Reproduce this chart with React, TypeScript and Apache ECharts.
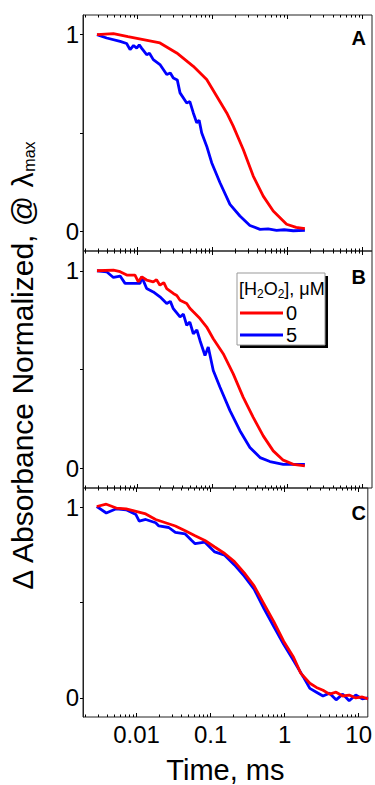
import React, { useEffect, useRef } from "react";
import * as echarts from "echarts";

// ---- axis ranges & ticks ----
const X_MIN = 0.00189;
const X_MAX = 13.3;
const X_MAJOR = [0.01, 0.1, 1, 10];
const X_MAJOR_LABELS = ["0.01", "0.1", "1", "10"];
const X_DECADES = [0.001, 0.01, 0.1, 1, 10];
const X_MINOR_MULT = [2, 3, 4, 5, 6, 7, 8, 9];
const Y_MIN = -0.1;
const Y_MAX = 1.1;
const Y_TICKS = [0, 0.5, 1];
const Y_LABELS = [0, 1];
const PANEL_LETTERS = ["A", "B", "C"];
const LEGEND_NAMES = ["0", "5"];

// ---- data (time in ms, normalized absorbance) ----
const A_RED_T = [0.0029, 0.0048, 0.0075, 0.012, 0.02, 0.0334, 0.0556, 0.0838, 0.114, 0.155, 0.189, 0.257, 0.349, 0.474, 0.644, 0.97, 1.3, 1.7];
const A_RED_V = [1, 1.005, 0.99, 0.975, 0.958, 0.907, 0.839, 0.772, 0.687, 0.602, 0.535, 0.416, 0.281, 0.179, 0.103, 0.036, 0.02, 0.014];
const A_BLUE_T = [0.0029, 0.0039, 0.0059, 0.0072, 0.008, 0.0089, 0.0098, 0.0106, 0.01145, 0.0133, 0.0145, 0.0163, 0.02, 0.0246, 0.0275, 0.0301, 0.034, 0.037, 0.0454, 0.05, 0.0556, 0.0617, 0.0665, 0.0718, 0.0838, 0.0976, 0.126, 0.171, 0.232, 0.315, 0.43, 0.55, 0.714, 0.9, 1.19, 1.7];
const A_BLUE_V = [1, 0.983, 0.966, 0.955, 0.924, 0.945, 0.932, 0.948, 0.93, 0.898, 0.905, 0.873, 0.848, 0.797, 0.805, 0.78, 0.77, 0.704, 0.653, 0.66, 0.602, 0.552, 0.565, 0.501, 0.433, 0.349, 0.247, 0.137, 0.078, 0.03, 0.01, 0.012, 0.005, 0.008, 0.003, 0.005];

const B_RED_T = [0.0029, 0.0048, 0.0059, 0.00723, 0.0093, 0.0103, 0.01145, 0.0133, 0.0163, 0.018, 0.02, 0.0225, 0.0246, 0.0301, 0.0335, 0.037, 0.0454, 0.05, 0.0556, 0.0682, 0.0838, 0.1025, 0.139, 0.189, 0.257, 0.349, 0.474, 0.644, 0.875, 1.19, 1.7];
const B_RED_V = [1, 1.003, 0.995, 0.978, 0.978, 0.944, 0.969, 0.953, 0.944, 0.955, 0.927, 0.94, 0.91, 0.885, 0.875, 0.851, 0.834, 0.81, 0.792, 0.758, 0.715, 0.656, 0.58, 0.478, 0.359, 0.258, 0.164, 0.088, 0.041, 0.02, 0.012];
const B_BLUE_T = [0.0029, 0.0039, 0.0048, 0.0059, 0.00686, 0.01086, 0.01145, 0.0133, 0.0163, 0.02, 0.0246, 0.0275, 0.0301, 0.037, 0.041, 0.0454, 0.05, 0.0556, 0.062, 0.0682, 0.0795, 0.0879, 0.1025, 0.126, 0.171, 0.232, 0.315, 0.43, 0.582, 0.875, 1.19, 1.7];
const B_BLUE_V = [1, 0.995, 0.966, 0.973, 0.936, 0.936, 0.969, 0.91, 0.893, 0.868, 0.834, 0.845, 0.808, 0.766, 0.78, 0.724, 0.74, 0.681, 0.7, 0.647, 0.571, 0.614, 0.495, 0.41, 0.292, 0.19, 0.105, 0.054, 0.034, 0.02, 0.02, 0.02];

const C_RED_T = [0.0029, 0.0039, 0.00532, 0.00723, 0.0098, 0.0133, 0.0181, 0.0246, 0.0334, 0.0454, 0.0617, 0.0838, 0.1137, 0.155, 0.21, 0.285, 0.387, 0.526, 0.714, 0.97, 1.32, 1.65, 2.19, 2.69, 3.3, 4.04, 4.96, 6.09, 7.45, 9.14, 11.2, 13.4];
const C_RED_V = [1.003, 1.015, 0.995, 0.991, 0.978, 0.964, 0.935, 0.918, 0.901, 0.876, 0.85, 0.825, 0.791, 0.757, 0.714, 0.655, 0.587, 0.493, 0.4, 0.297, 0.213, 0.13, 0.077, 0.055, 0.04, 0.02, 0.03, 0.01, 0.015, 0.0, 0.005, -0.005];
const C_BLUE_T = [0.0029, 0.0039, 0.00532, 0.00723, 0.0098, 0.01086, 0.0133, 0.0181, 0.02, 0.0272, 0.0334, 0.0454, 0.0556, 0.0617, 0.0838, 0.1137, 0.155, 0.21, 0.285, 0.387, 0.526, 0.714, 0.97, 1.32, 1.79, 2.19, 2.69, 3.3, 4.04, 4.96, 6.09, 7.45, 9.14, 11.2, 13.4];
const C_BLUE_V = [1.003, 0.969, 0.991, 0.986, 0.961, 0.927, 0.935, 0.918, 0.901, 0.893, 0.867, 0.859, 0.825, 0.808, 0.816, 0.765, 0.748, 0.697, 0.638, 0.57, 0.468, 0.374, 0.281, 0.196, 0.11, 0.05, 0.03, 0.01, 0.025, -0.01, 0.02, -0.015, 0.015, -0.005, 0];

const PANELS = [
  { red: [A_RED_T, A_RED_V], blue: [A_BLUE_T, A_BLUE_V] },
  { red: [B_RED_T, B_RED_V], blue: [B_BLUE_T, B_BLUE_V] },
  { red: [C_RED_T, C_RED_V], blue: [C_BLUE_T, C_BLUE_V] },
];

const FONT = "Liberation Sans";
const GRID_LEFT = 83;
const GRID_WIDTH = 289;
const GRID_TOPS = [15, 251, 488];
const GRID_HEIGHTS = [236, 237, 235];
const RED = "#ff0000";
const BLUE = "#0000ff";

export default function App() {
  const ref = useRef<HTMLDivElement>(null);

  useEffect(() => {
    if (!ref.current) return;
    const chart = echarts.init(ref.current, undefined, { renderer: "svg" });

    const lmin = Math.log10(X_MIN);
    const lmax = Math.log10(X_MAX);
    const majorL = X_MAJOR.map((v) => Math.log10(v));
    const minorL: number[] = [];
    X_DECADES.forEach((d) =>
      X_MINOR_MULT.forEach((m) => {
        const v = d * m;
        if (v > X_MIN && v < X_MAX) minorL.push(Math.log10(v));
      })
    );

    const grids: any[] = [];
    const xAxes: any[] = [];
    const yAxes: any[] = [];
    const series: any[] = [];

    const tickAxis = (g: number, pos: string, vals: number[], len: number, labels: boolean) => ({
      type: "value",
      gridIndex: g,
      position: pos,
      min: lmin,
      max: lmax,
      axisLine: { show: false, onZero: false },
      splitLine: { show: false },
      axisTick: { show: true, inside: true, length: len, customValues: vals, lineStyle: { color: "#000", width: 1 } },
      axisLabel: labels
        ? {
            show: true,
            customValues: majorL,
            margin: 5,
            fontSize: 24,
            fontFamily: FONT,
            color: "#000",
            formatter: (v: number) => {
              const i = majorL.findIndex((m) => Math.abs(m - v) < 1e-6);
              return i >= 0 ? X_MAJOR_LABELS[i] : "";
            },
          }
        : { show: false },
      ...(labels
        ? {
            name: "Time, ms",
            nameLocation: "middle",
            nameGap: 38,
            nameTextStyle: { fontSize: 29, fontFamily: FONT, color: "#000" },
          }
        : {}),
    });

    PANELS.forEach((p, g) => {
      grids.push({
        left: GRID_LEFT,
        width: GRID_WIDTH,
        top: GRID_TOPS[g],
        height: GRID_HEIGHTS[g],
        show: true,
        borderColor: "#222",
        borderWidth: 1,
        backgroundColor: "transparent",
      });
      const dataAxisIndex = xAxes.length;
      xAxes.push({ type: "log", logBase: 10, gridIndex: g, min: X_MIN, max: X_MAX, show: false, axisLine: { onZero: false } });
      xAxes.push(tickAxis(g, "bottom", majorL, 4, g === 2));
      xAxes.push(tickAxis(g, "bottom", minorL, 2.5, false));
      xAxes.push(tickAxis(g, "top", majorL, 4, false));
      xAxes.push(tickAxis(g, "top", minorL, 2.5, false));
      yAxes.push({
        type: "value",
        gridIndex: g,
        position: "left",
        min: Y_MIN,
        max: Y_MAX,
        axisLine: { show: true, onZero: false, lineStyle: { color: "#222", width: 1 } },
        splitLine: { show: false },
        axisTick: { show: true, inside: false, length: 3, customValues: Y_TICKS, lineStyle: { color: "#000" } },
        axisLabel: { show: true, customValues: Y_LABELS, margin: 4, fontSize: 24, fontFamily: FONT, color: "#000" },
      });
      const mk = (tv: number[][]) => tv[0].map((t, i) => [t, tv[1][i]]);
      series.push({
        type: "line",
        name: LEGEND_NAMES[1],
        xAxisIndex: dataAxisIndex,
        yAxisIndex: g,
        data: mk(p.blue),
        showSymbol: false,
        symbol: "none",
        lineStyle: { color: BLUE, width: 2.8 },
        itemStyle: { color: BLUE },
      });
      series.push({
        type: "line",
        name: LEGEND_NAMES[0],
        xAxisIndex: dataAxisIndex,
        yAxisIndex: g,
        data: mk(p.red),
        showSymbol: false,
        symbol: "none",
        lineStyle: { color: RED, width: 2.8 },
        itemStyle: { color: RED },
      });
    });

    const letterYs = [38, 277, 513];
    const graphics: any[] = [
      { type: "rect", z: 1, shape: { x: 240, y: 276, width: 88, height: 72 }, style: { fill: "#000" } },
      { type: "rect", z: 1, shape: { x: 237, y: 273, width: 88, height: 72 }, style: { fill: "#fff", stroke: "#999", lineWidth: 1 } },
      {
        type: "text",
        z: 5,
        x: 239,
        y: 289,
        style: {
          text: "{a|[H}{s|2}{a|O}{s|2}{a|], μM}",
          align: "left",
          verticalAlign: "middle",
          rich: {
            a: { fontSize: 18, fontFamily: FONT, fill: "#000" },
            s: { fontSize: 12, fontFamily: FONT, fill: "#000", padding: [10, 0, 0, 0] },
          },
        },
      },
      {
        type: "text",
        x: 22,
        y: 366,
        rotation: Math.PI / 2,
        style: {
          text: "{a|Δ Absorbance Normalized, @ λ}{s|max}",
          align: "center",
          verticalAlign: "middle",
          rich: {
            a: { fontSize: 30, fontFamily: FONT, fill: "#000" },
            s: { fontSize: 16, fontFamily: FONT, fill: "#000", padding: [14, 0, 0, 0] },
          },
        },
      },
      ...PANEL_LETTERS.map((l, i) => ({
        type: "text",
        x: 366,
        y: letterYs[i],
        style: {
          text: l,
          align: "right",
          verticalAlign: "middle",
          font: `bold 20px "${FONT}"`,
          fill: "#000",
        },
      })),
    ];

    chart.setOption({
      animation: false,
      backgroundColor: "#fff",
      grid: grids,
      xAxis: xAxes,
      yAxis: yAxes,
      series,
      legend: {
        data: LEGEND_NAMES,
        orient: "vertical",
        left: 240,
        top: 303,
        icon: "rect",
        itemWidth: 43,
        itemHeight: 3,
        itemGap: 2,
        padding: 0,
        z: 10,
        selectedMode: false,
        textStyle: { fontSize: 20, fontFamily: FONT, color: "#000", padding: [0, 0, 0, -2] },
      },
      graphic: graphics,
    });

    return () => chart.dispose();
  }, []);

  return <div ref={ref} style={{ width: 375, height: 785, position: "absolute", left: 0, top: 0 }} />;
}
